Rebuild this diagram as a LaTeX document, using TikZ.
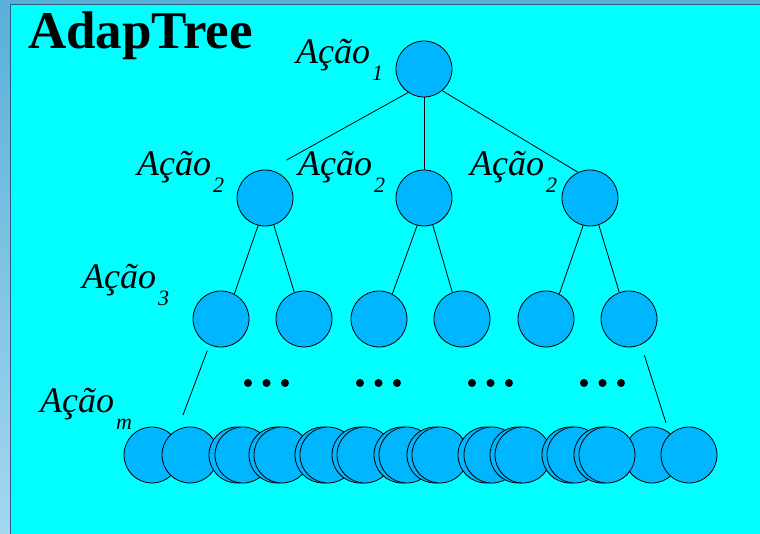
\documentclass[tikz,border=0pt]{standalone}
\usepackage{fontspec}
\setmainfont{Liberation Serif}
\usepackage{tikz}
\usepackage{xcolor}

\definecolor{fundo}{RGB}{0,255,255}
\definecolor{noazul}{RGB}{0,182,255}
\definecolor{borda}{RGB}{90,175,217}
\definecolor{bordaclara}{RGB}{164,214,240}
\definecolor{linha}{RGB}{36,98,126}

\newcommand{\acao}[1]{Ação\kern2pt\raisebox{-17pt}{\fontsize{22}{22}\selectfont #1}}

\tikzset{
	no/.style={circle,draw=black,fill=noazul,line width=0.8pt,minimum size=56pt,inner sep=0pt},
	rotulo/.style={anchor=base west,inner sep=0pt,font=\fontsize{36}{40}\selectfont\itshape},
	ramo/.style={line width=0.8pt}
}

\begin{document}
\begin{tikzpicture}[x=1pt,y=-1pt]
	\useasboundingbox (0,0) rectangle (760,534);
	% fundo do slide
	\fill[fundo] (0,0) rectangle (760,534);
	\shade[top color=borda,bottom color=bordaclara] (0,0) rectangle (10,534);
	\fill[borda] (10,0) rectangle (760,4);
	\draw[linha,line width=1.2pt] (10.6,534) -- (10.6,4.6) -- (760,4.6);
	\node[anchor=base west,inner sep=0pt,font=\fontsize{53}{60}\selectfont\bfseries] (titulo) at (28,49) {AdapTree};
	% niveis 1 a 3
	\node[no] (R) at (424,69) {};
	\node[no] (B1) at (265,198) {};
	\node[no] (B2) at (424,198) {};
	\node[no] (B3) at (590,198) {};
	\foreach \x [count=\i] in {221,304,379,462,546,629}
		\node[no] (C\i) at (\x,319) {};
	\draw[ramo,shorten >=20pt] (R.236) -- (B1.82);
	\draw[ramo] (R.south) -- (B2.north);
	\draw[ramo] (R.310) -- (B3.115);
	\foreach \p/\a/\b in {1/1/2,2/3/4,3/5/6} {
		\draw[ramo] (B\p.256) -- (C\a.62);
		\draw[ramo] (B\p.288) -- (C\b.110);
	}
	% reticencias
	\foreach \x in {248,360,472,584}
		\foreach \d in {0,18.5,37}
			\fill (\x+\d,383) circle (4pt);
	% nivel m
	\coordinate (ML) at (183,415);
	\coordinate (MR) at (666,423);
	\draw[ramo,shorten <=6pt] (C1.246) -- (ML);
	\draw[ramo,shorten <=11pt] (C6.295) -- (MR);
	\foreach \x [count=\i] in {152,190,237,243,277,282,323,328,360,365,402,407,435,440,486,492,518,523,570,575,652,602,607,689}
		\node[no] (M\i) at (\x,455) {};
	% rotulos
	\node[rotulo] (L1) at (296,64) {\acao{1}};
	\node[rotulo] (L2a) at (137,176) {\acao{2}};
	\node[rotulo] (L2b) at (298,176) {\acao{2}};
	\node[rotulo] (L2c) at (470,176) {\acao{2}};
	\node[rotulo] (L3) at (82,289) {\acao{3}};
	\node[rotulo] (Lm) at (40,412) {\acao{m}};
\end{tikzpicture}
\end{document}
